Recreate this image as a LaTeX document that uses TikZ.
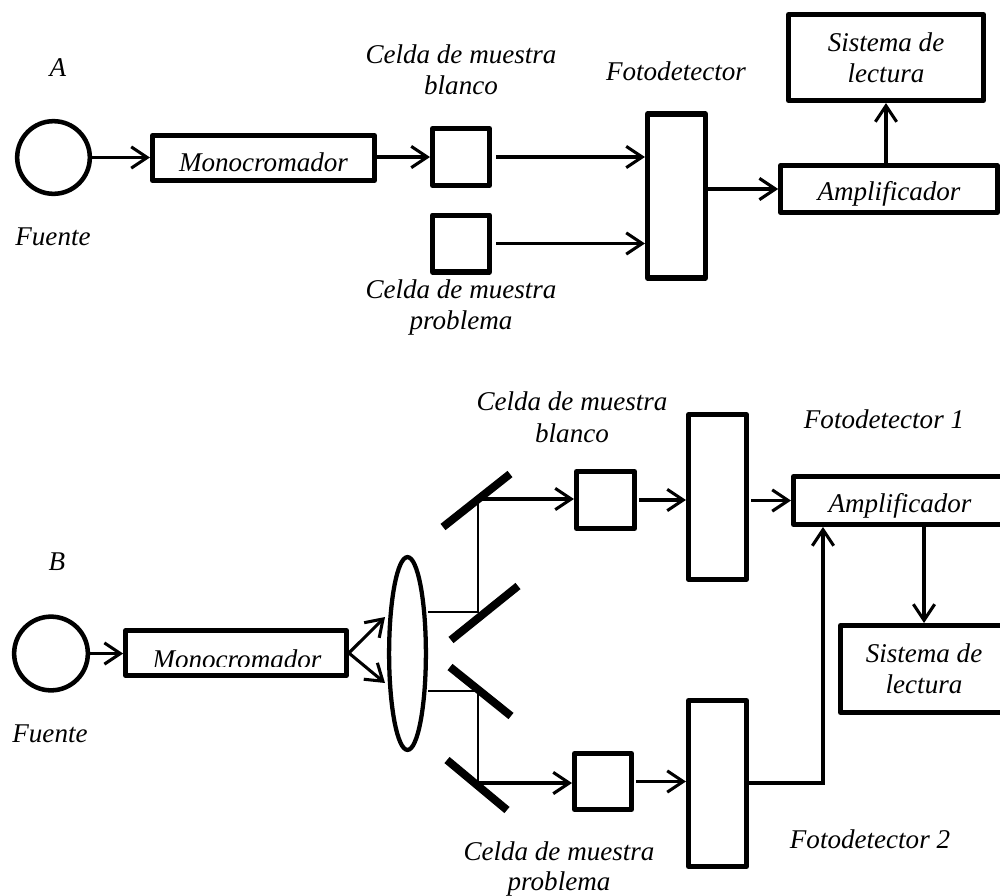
\documentclass[tikz,border=0pt]{standalone}
\usepackage{fontspec}
\setmainfont{Liberation Serif}
\usetikzlibrary{arrows.meta,shapes.geometric}
\newcommand\dfont{\fontsize{20.3pt}{23.5pt}\selectfont\itshape}
\begin{document}
\begin{tikzpicture}[x=0.75pt,y=-0.75pt,
  box/.style={draw,line width=3.8pt,line join=round,inner sep=0pt,font=\dfont,align=center},
  src/.style={draw,circle,line width=3.4pt,inner sep=0pt},
  lbl/.style={font=\dfont,anchor=base,inner sep=0pt},
  conn/.style={line width=2.3pt,-{Straight Barb[length=12pt,width=16pt]}},
  ray/.style={line width=2pt},
  mirror/.style={line width=6pt}]
\clip (0,0) rectangle (1000,896);
% ---------------- Part A ----------------
\node[src,minimum size=54.5pt] (srcA) at (53.5,157.5) {};
\node[box,minimum width=166.5pt,minimum height=33.7pt,text height=20pt,text depth=0pt] (monoA) at (263.5,158) {Monocromador};
\node[box,minimum size=42.7pt] (cellA1) at (461,157) {};
\node[box,minimum size=42.7pt] (cellA2) at (461,243.5) {};
\node[box,minimum width=43.5pt,minimum height=123pt] (pdA) at (676.5,196) {};
\node[box,minimum width=162.5pt,minimum height=35.2pt,text height=16.5pt,text depth=0pt] (ampA) at (889,189) {Amplificador};
\node[box,minimum width=146.2pt,minimum height=64.5pt] (sysA) at (886,57.5) {Sistema de\\lectura};
\node[lbl] (lA) at (58,76) {A};
\node[lbl] (fA) at (53,245) {Fuente};
\node[lbl] (cA1a) at (461,63) {Celda de muestra};
\node[lbl] (cA1b) at (461,94) {blanco};
\node[lbl] (cA2a) at (461,298) {Celda de muestra};
\node[lbl] (cA2b) at (461,329) {problema};
\node[lbl] (pdAl) at (676,80) {Fotodetector};
\draw[conn] (srcA.east) -- (srcA.east -| monoA.west);
\draw[conn] (monoA.east |- cellA1.west) -- (cellA1.west);
\draw[conn,shorten <=3pt] (cellA1.east) -- (cellA1.east -| pdA.west);
\draw[conn,shorten <=3pt] (cellA2.east) -- (cellA2.east -| pdA.west);
\draw[conn] (pdA.east |- ampA.west) -- (ampA.west);
\draw[conn] (ampA.north -| sysA.south) -- (sysA.south);
% ---------------- Part B ----------------
\node[src,minimum size=55.3pt] (srcB) at (51,653.5) {};
\node[box,minimum width=165.5pt,minimum height=33.7pt] (monoB) at (236,653) {};
\begin{scope}
  \clip (120,630) rectangle (350,666);
  \node[lbl] (monoBt) at (237,668) {Monocromador};
\end{scope}
\node[draw,ellipse,line width=3.2pt,minimum width=27.6pt,minimum height=144.6pt,inner sep=0pt] (lens) at (407.5,653.5) {};
\node[box,minimum width=43.5pt,minimum height=42.7pt] (cellB1) at (605.5,500) {};
\node[box,minimum width=42.7pt,minimum height=42pt] (cellB2) at (603,781.5) {};
\node[box,minimum width=43.5pt,minimum height=123.5pt] (pdB1) at (717.5,497) {};
\node[box,minimum width=43.5pt,minimum height=124.5pt] (pdB2) at (717.5,783.5) {};
\node[box,minimum width=159.7pt,minimum height=35.9pt,text height=18pt,text depth=0pt] (ampB) at (900,500.5) {Amplificador};
\node[box,minimum width=125.2pt,minimum height=65.2pt] (sysB) at (924,669) {Sistema de\\lectura};
\node[lbl] (lB) at (57,570) {B};
\node[lbl] (fB) at (50,742) {Fuente};
\node[lbl] (cB1a) at (572,410) {Celda de muestra};
\node[lbl] (cB1b) at (572,442) {blanco};
\node[lbl] (pdB1l) at (884,428) {Fotodetector 1};
\node[lbl] (pdB2l) at (870,848) {Fotodetector 2};
\node[lbl] (cB2a) at (559,860) {Celda de muestra};
\node[lbl] (cB2b) at (559,890) {problema};
\coordinate (h1) at (478,499);
\coordinate (h2) at (478,612);
\coordinate (h3) at (478,691);
\coordinate (h4) at (478,783);
\coordinate (lu) at (385,617);
\coordinate (ld) at (385,683);
\coordinate (jB) at (823,783);
\draw[conn] (srcB.east) -- (srcB.east -| monoB.west);
\draw[conn] (monoB.east) -- (lu);
\draw[conn] (monoB.east) -- (ld);
\draw[ray] (lens.east |- h2) -- (h2) -- (h1);
\draw[conn] (h1) -- (h1 -| cellB1.west);
\draw[ray] (lens.east |- h3) -- (h3) -- (h4);
\draw[conn] (h4) -- (h4 -| cellB2.west);
\draw[conn,shorten <=1.5pt] (cellB1.east) -- (cellB1.east -| pdB1.west);
\draw[conn,shorten <=1.5pt] (cellB2.east) -- (cellB2.east -| pdB2.west);
\draw[conn,shorten <=1.5pt] (pdB1.east |- ampB.west) -- (ampB.west);
\draw[conn] (pdB2.east |- jB) -| (ampB.south -| jB);
\draw[conn] (ampB.south -| sysB.north) -- (sysB.north);
\draw[mirror] (443,527) -- (510,474);
\draw[mirror] (451,640) -- (518,586);
\draw[mirror] (450,667) -- (511,716);
\draw[mirror] (447,760) -- (507,810);
\end{tikzpicture}
\end{document}
